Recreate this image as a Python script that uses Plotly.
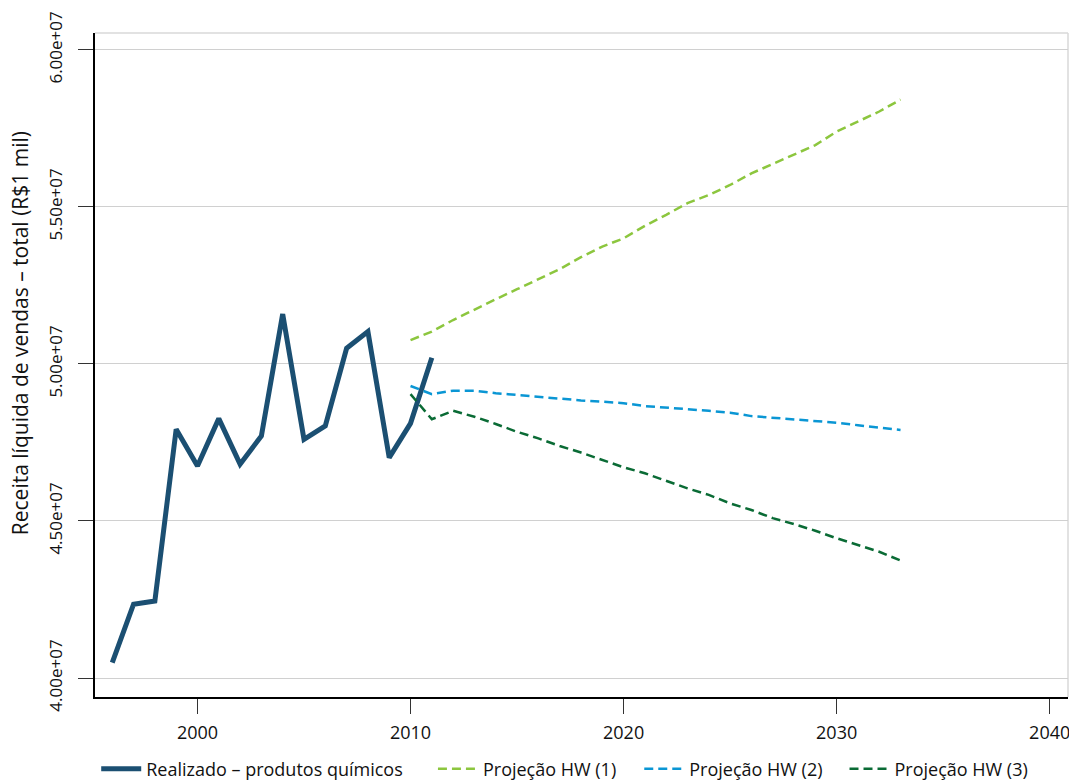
import plotly.graph_objects as go

# Realised revenue, 1996-2011 (R$1 mil)
anos_real = list(range(1996, 2012))
realizado = [4.049e7, 4.235e7, 4.245e7, 4.792e7, 4.675e7, 4.826e7, 4.681e7, 4.771e7,
             5.159e7, 4.760e7, 4.803e7, 5.050e7, 5.103e7, 4.702e7, 4.811e7, 5.020e7]

# Holt-Winters projections, 2010-2033
anos_proj = list(range(2010, 2034))
hw1 = [5.076e7, 5.103e7, 5.140e7, 5.174e7, 5.206e7, 5.238e7, 5.270e7, 5.302e7,
       5.340e7, 5.374e7, 5.400e7, 5.440e7, 5.475e7, 5.512e7, 5.538e7, 5.570e7,
       5.607e7, 5.637e7, 5.666e7, 5.697e7, 5.740e7, 5.772e7, 5.804e7, 5.842e7]
hw2 = [4.930e7, 4.904e7, 4.915e7, 4.915e7, 4.907e7, 4.901e7, 4.894e7, 4.889e7,
       4.884e7, 4.880e7, 4.875e7, 4.866e7, 4.860e7, 4.856e7, 4.851e7, 4.845e7,
       4.834e7, 4.829e7, 4.824e7, 4.818e7, 4.813e7, 4.805e7, 4.797e7, 4.790e7]
hw3 = [4.904e7, 4.824e7, 4.851e7, 4.832e7, 4.809e7, 4.784e7, 4.763e7, 4.739e7,
       4.718e7, 4.694e7, 4.671e7, 4.652e7, 4.628e7, 4.604e7, 4.583e7, 4.556e7,
       4.535e7, 4.509e7, 4.490e7, 4.469e7, 4.445e7, 4.424e7, 4.402e7, 4.374e7]

y_ticks = [4.0e7, 4.5e7, 5.0e7, 5.5e7, 6.0e7]
y_tick_labels = ["4.00e+07", "4.50e+07", "5.00e+07", "5.50e+07", "6.00e+07"]
x_ticks = [2000, 2010, 2020, 2030, 2040]
y_title = "Receita líquida de vendas – total (R$1 mil)"

FONT = "Open Sans"
DASH = "9px,5px"
INK = "#111111"

fig = go.Figure()
fig.add_trace(go.Scatter(x=anos_real, y=realizado, mode="lines",
                         name="Realizado – produtos químicos", legend="legend",
                         line=dict(color="#1b4f72", width=5)))
fig.add_trace(go.Scatter(x=anos_proj, y=hw1, mode="lines", name="Projeção HW (1)",
                         legend="legend2",
                         line=dict(color="#8cc63e", width=2.5, dash=DASH)))
fig.add_trace(go.Scatter(x=anos_proj, y=hw2, mode="lines", name="Projeção HW (2)",
                         legend="legend3",
                         line=dict(color="#0a96d4", width=2.5, dash=DASH)))
fig.add_trace(go.Scatter(x=anos_proj, y=hw3, mode="lines", name="Projeção HW (3)",
                         legend="legend4",
                         line=dict(color="#0a6b35", width=2.5, dash=DASH)))

# light frame on the top and right of the plotting area
fig.add_shape(type="line", xref="paper", yref="paper", x0=0, x1=1, y0=1, y1=1,
              line=dict(color="#d9d9d9", width=1.5), layer="below")
fig.add_shape(type="line", xref="paper", yref="paper", x0=1, x1=1, y0=0, y1=1,
              line=dict(color="#d9d9d9", width=1.5), layer="below")

# y-axis title, rotated
fig.add_annotation(text=y_title, xref="paper", yref="paper", x=-0.077, y=0.548,
                   xanchor="center", yanchor="middle", textangle=-90,
                   showarrow=False, font=dict(family=FONT, size=21, color=INK))


def legend_box(x):
    # one single-entry legend per series, laid out in a row under the axis
    return dict(orientation="h", x=x, xref="container", xanchor="left",
                y=0.039, yref="container", yanchor="top",
                font=dict(family=FONT, size=18, color=INK),
                itemwidth=40, bgcolor="rgba(0,0,0,0)")


fig.update_layout(
    width=1069, height=781,
    margin=dict(l=95, r=1, t=33, b=84, autoexpand=False),
    plot_bgcolor="white", paper_bgcolor="white",
    font=dict(family=FONT, size=18, color=INK),
    showlegend=True,
    legend=legend_box(0.090),
    legend2=legend_box(0.405),
    legend3=legend_box(0.598),
    legend4=legend_box(0.790),
    xaxis=dict(range=[1995.19, 2040.86], tickmode="array", tickvals=x_ticks,
               showgrid=False, zeroline=False, showline=True, linecolor="black",
               linewidth=1.5, ticks="outside", ticklen=15, tickwidth=1.2,
               tickcolor="#333333", tickfont=dict(size=18), automargin=False,
               ticklabelstandoff=4, ticklabeloverflow="allow"),
    yaxis=dict(range=[3.9395e7, 6.054e7], tickmode="array", tickvals=y_ticks,
               ticktext=y_tick_labels, tickangle=-90,
               showgrid=True, gridcolor="#d0d0d0", gridwidth=1, zeroline=False,
               showline=True, linecolor="black", linewidth=1.5,
               ticks="outside", ticklen=15, tickwidth=1.2, tickcolor="#333333",
               tickfont=dict(size=17), ticklabelstandoff=9, automargin=False,
               ticklabeloverflow="allow"),
)

fig.write_html("out.html")
